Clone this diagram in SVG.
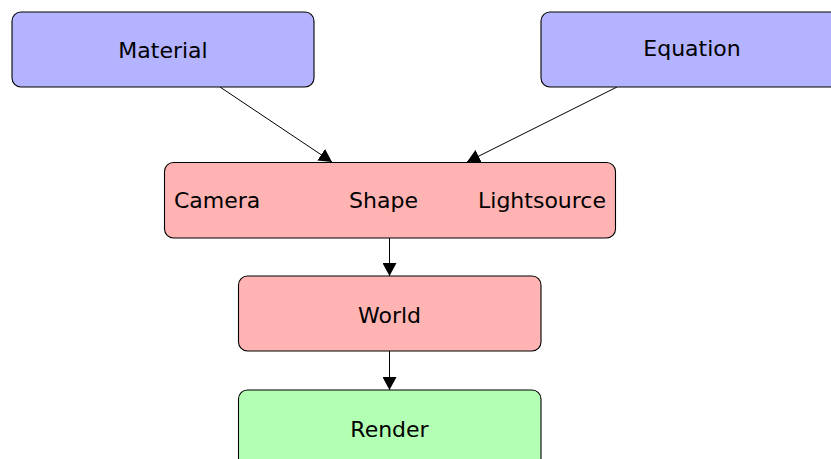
<svg xmlns="http://www.w3.org/2000/svg" width="831" height="459" viewBox="0 0 831 459">
<style>
.box{stroke:#000;stroke-width:1.1}
.blue{fill:#b3b3ff}
.red{fill:#ffb3b3}
.green{fill:#b3ffb3}
text{font-family:"DejaVu Sans","Liberation Sans",sans-serif;font-size:22px;fill:#000}
.c{text-anchor:middle}
.edge{stroke:#000;stroke-width:1;fill:none;marker-end:url(#ah)}
</style>
<defs>
<marker id="ah" markerWidth="13" markerHeight="14" refX="13" refY="7" orient="auto" markerUnits="userSpaceOnUse">
<path d="M0,0 L13,7 L0,14 Z" fill="#000"/>
</marker>
</defs>
<rect width="831" height="459" fill="#fff"/>
<g id="edges">
<line class="edge" x1="220" y1="87" x2="332" y2="162"/>
<line class="edge" x1="617" y1="87" x2="467" y2="162"/>
<line class="edge" x1="389.5" y1="238" x2="389.5" y2="276"/>
<line class="edge" x1="389.5" y1="351" x2="389.5" y2="390"/>
</g>
<g id="material">
<rect class="box blue" x="12" y="12" width="302" height="75" rx="9"/>
<text class="c" x="163" y="58">Material</text>
</g>
<g id="equation">
<rect class="box blue" x="541" y="12" width="302" height="75" rx="9"/>
<text class="c" x="692" y="56">Equation</text>
</g>
<g id="shape">
<rect class="box red" x="164.5" y="162.5" width="451" height="75.5" rx="9"/>
<text x="174" y="208">Camera</text>
<text class="c" x="383.5" y="208">Shape</text>
<text x="606" y="208" text-anchor="end">Lightsource</text>
</g>
<g id="world">
<rect class="box red" x="238.5" y="276" width="302.5" height="75" rx="9"/>
<text class="c" x="389.5" y="323">World</text>
</g>
<g id="render">
<rect class="box green" x="238.5" y="390" width="302.5" height="80" rx="9"/>
<text class="c" x="389.5" y="437">Render</text>
</g>
</svg>
